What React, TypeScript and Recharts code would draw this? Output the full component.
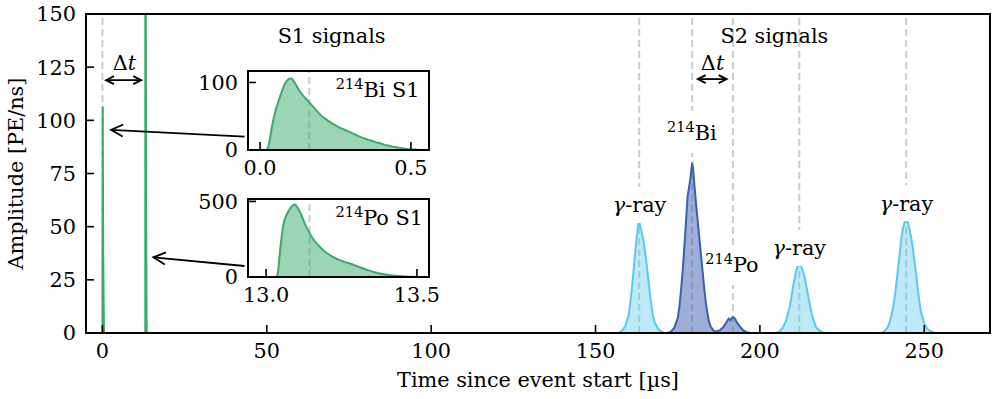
import React from 'react';
import {
  AreaChart,
  Area,
  XAxis,
  YAxis,
  ReferenceLine,
  ReferenceDot,
  ReferenceArea,
  Label,
} from 'recharts';

const FONT = '"DejaVu Serif", serif';
const FS = 20.8;
const SUP = 14.5;

// ---------- DATA ----------
// S1 pulse of 214Bi (time in µs, amplitude in PE/ns)
const biS1 = [
  { t: 0.02, a: 0 }, { t: 0.025, a: 2 }, { t: 0.03, a: 10 }, { t: 0.04, a: 36 },
  { t: 0.05, a: 56 }, { t: 0.06, a: 71 }, { t: 0.07, a: 84 }, { t: 0.08, a: 96 },
  { t: 0.09, a: 103 }, { t: 0.1, a: 106 }, { t: 0.105, a: 106 }, { t: 0.11, a: 103 },
  { t: 0.12, a: 96 }, { t: 0.13, a: 88 }, { t: 0.14, a: 82 }, { t: 0.15, a: 77 },
  { t: 0.16, a: 72 }, { t: 0.18, a: 62 }, { t: 0.2, a: 52 }, { t: 0.22, a: 45 },
  { t: 0.24, a: 39 }, { t: 0.26, a: 34 }, { t: 0.28, a: 30 }, { t: 0.3, a: 26 },
  { t: 0.32, a: 22 }, { t: 0.34, a: 18 }, { t: 0.36, a: 15 }, { t: 0.38, a: 12 },
  { t: 0.4, a: 9.5 }, { t: 0.42, a: 7 }, { t: 0.44, a: 5 }, { t: 0.46, a: 3.5 },
  { t: 0.48, a: 2 }, { t: 0.5, a: 1 }, { t: 0.52, a: 0.5 }, { t: 0.55, a: 0 },
];

// S1 pulse of 214Po
const poS1 = [
  { t: 13.035, a: 0 }, { t: 13.04, a: 40 }, { t: 13.045, a: 150 }, { t: 13.05, a: 240 },
  { t: 13.055, a: 320 }, { t: 13.06, a: 370 }, { t: 13.07, a: 420 }, { t: 13.08, a: 455 },
  { t: 13.09, a: 475 }, { t: 13.095, a: 480 }, { t: 13.1, a: 470 }, { t: 13.11, a: 440 },
  { t: 13.12, a: 395 }, { t: 13.13, a: 345 }, { t: 13.14, a: 305 }, { t: 13.15, a: 270 },
  { t: 13.16, a: 240 }, { t: 13.18, a: 195 }, { t: 13.2, a: 160 }, { t: 13.22, a: 135 },
  { t: 13.24, a: 115 }, { t: 13.26, a: 100 }, { t: 13.28, a: 88 }, { t: 13.3, a: 73 },
  { t: 13.32, a: 58 }, { t: 13.34, a: 44 }, { t: 13.36, a: 32 }, { t: 13.38, a: 22 },
  { t: 13.4, a: 15 }, { t: 13.42, a: 10 }, { t: 13.44, a: 6 }, { t: 13.46, a: 3 },
  { t: 13.48, a: 1.5 }, { t: 13.5, a: 0.5 }, { t: 13.54, a: 0 },
];

// S2 pulses
const gamma1 = [
  { t: 157, a: 0 }, { t: 158, a: 1 }, { t: 159, a: 3 }, { t: 160, a: 8 }, { t: 160.5, a: 13 },
  { t: 161, a: 20 }, { t: 161.5, a: 28 }, { t: 162, a: 37 }, { t: 162.5, a: 45 }, { t: 163, a: 51 },
  { t: 163.3, a: 52.5 }, { t: 163.6, a: 50 }, { t: 164, a: 48 }, { t: 164.5, a: 44 }, { t: 165, a: 39 },
  { t: 165.5, a: 33 }, { t: 166, a: 26 }, { t: 166.5, a: 19 }, { t: 167, a: 13 }, { t: 167.5, a: 8 },
  { t: 168, a: 5 }, { t: 169, a: 2 }, { t: 170, a: 0.7 }, { t: 171, a: 0 },
];

const biPoS2 = [
  { t: 172, a: 0 }, { t: 173, a: 0.7 }, { t: 174, a: 2.5 }, { t: 175, a: 7 }, { t: 175.5, a: 12 },
  { t: 176, a: 20 }, { t: 176.5, a: 29 }, { t: 177, a: 40 }, { t: 177.5, a: 52 }, { t: 178, a: 64 },
  { t: 178.5, a: 69 }, { t: 178.8, a: 72 }, { t: 179.1, a: 76 }, { t: 179.4, a: 80 }, { t: 179.7, a: 77 },
  { t: 180, a: 71 }, { t: 180.5, a: 62 }, { t: 181, a: 54 }, { t: 181.5, a: 46 }, { t: 182, a: 38 },
  { t: 182.5, a: 30 }, { t: 183, a: 22 }, { t: 183.5, a: 15 }, { t: 184, a: 9.5 }, { t: 184.5, a: 5.5 },
  { t: 185, a: 3 }, { t: 186, a: 1 }, { t: 187, a: 0.8 }, { t: 188, a: 1.5 }, { t: 189, a: 3 },
  { t: 190, a: 5.5 }, { t: 190.5, a: 6.8 }, { t: 191, a: 6 }, { t: 191.5, a: 7.2 }, { t: 192, a: 7.4 },
  { t: 192.5, a: 6.5 }, { t: 193, a: 5 }, { t: 194, a: 2.8 }, { t: 195, a: 1.2 }, { t: 196, a: 0.4 },
  { t: 197, a: 0 },
];

const gamma2 = [
  { t: 205, a: 0 }, { t: 206, a: 0.8 }, { t: 207, a: 2.5 }, { t: 208, a: 6 }, { t: 209, a: 12 },
  { t: 209.5, a: 16 }, { t: 210, a: 21 }, { t: 210.5, a: 25 }, { t: 211, a: 29 }, { t: 211.5, a: 31.5 },
  { t: 212, a: 32.5 }, { t: 212.5, a: 31.5 }, { t: 213, a: 29.5 }, { t: 213.5, a: 27 }, { t: 214, a: 23 },
  { t: 214.5, a: 19 }, { t: 215, a: 15 }, { t: 215.5, a: 11 }, { t: 216, a: 7.5 }, { t: 217, a: 3 },
  { t: 218, a: 1.2 }, { t: 219, a: 0.4 }, { t: 220, a: 0 },
];

const gamma3 = [
  { t: 237, a: 0 }, { t: 238, a: 1 }, { t: 239, a: 3 }, { t: 240, a: 8 }, { t: 240.5, a: 12 },
  { t: 241, a: 17 }, { t: 241.5, a: 23 }, { t: 242, a: 30 }, { t: 242.5, a: 37 }, { t: 243, a: 44 },
  { t: 243.5, a: 49 }, { t: 244, a: 52 }, { t: 244.5, a: 53.5 }, { t: 245, a: 52 }, { t: 245.5, a: 49 },
  { t: 246, a: 45 }, { t: 246.5, a: 40 }, { t: 247, a: 34 }, { t: 247.5, a: 28 }, { t: 248, a: 21 },
  { t: 248.5, a: 15 }, { t: 249, a: 10 }, { t: 250, a: 4.5 }, { t: 251, a: 1.8 }, { t: 252, a: 0.8 },
  { t: 253, a: 0.3 }, { t: 254, a: 0 },
];

const mainXTicks = [0, 50, 100, 150, 200, 250];
const mainYTicks = [0, 25, 50, 75, 100, 125, 150];
const markerTimes = [163.3, 179.4, 191.8, 212.0, 244.5];
const s1Marker = 0;
const biInsetXTicks = [0, 0.5];
const biInsetYTicks = [0, 100];
const poInsetXTicks = [13.0, 13.5];
const poInsetYTicks = [0, 500];
const biInsetMarker = 0.163;
const poInsetMarker = 13.144;

// ---------- STYLE ----------
const GREEN = '#3aaa6e';
const LIGHT_BLUE = '#5ac8f0';
const DARK_BLUE = '#3c5fb0';
const DASH = '#cccccc';

// ---------- helpers ----------
const fmtInt = (v: number) => String(v);
const fmt1 = (v: number) => v.toFixed(1);

const makeXTick = (fmt: (v: number) => string) => (p: any) => {
  const { x, y, payload } = p;
  return (
    <g>
      <line x1={x} y1={y} x2={x} y2={y - 8} stroke="#000" strokeWidth={1.6} />
      <text x={x} y={y + 25} textAnchor="middle" fontFamily={FONT} fontSize={FS} fill="#000">
        {fmt(payload.value)}
      </text>
    </g>
  );
};

const makeYTick = (fmt: (v: number) => string) => (p: any) => {
  const { x, y, payload } = p;
  return (
    <g>
      <line x1={x} y1={y} x2={x + 8} y2={y} stroke="#000" strokeWidth={1.6} />
      <text x={x - 10} y={y} dy="0.36em" textAnchor="end" fontFamily={FONT} fontSize={FS} fill="#000">
        {fmt(payload.value)}
      </text>
    </g>
  );
};

const arrowShape = (double: boolean, head: number, half: number) => (p: any) => {
  const { x1, y1, x2, y2 } = p;
  const dx = x2 - x1;
  const dy = y2 - y1;
  const L = Math.hypot(dx, dy) || 1;
  const ux = dx / L;
  const uy = dy / L;
  const headPath = (tx: number, ty: number, sx: number, sy: number) =>
    `M${tx - sx * head - sy * half},${ty - sy * head + sx * half} L${tx},${ty} L${tx - sx * head + sy * half},${ty - sy * head - sx * half}`;
  return (
    <g>
      <line x1={x1} y1={y1} x2={x2} y2={y2} stroke="#000" strokeWidth={1.8} />
      <path d={headPath(x2, y2, ux, uy)} fill="none" stroke="#000" strokeWidth={1.8} />
      {double && <path d={headPath(x1, y1, -ux, -uy)} fill="none" stroke="#000" strokeWidth={1.8} />}
    </g>
  );
};

// text is vertically centred on (cx, cy); box = [offsetX, width, height] white rect
const labelShape = (content: React.ReactNode, box: [number, number, number] | null) => (p: any) => (
  <g>
    {box && <rect x={p.cx + box[0] - box[1] / 2} y={p.cy - box[2] / 2} width={box[1]} height={box[2]} fill="#fff" />}
    <text x={p.cx} y={p.cy + 0.36 * FS} textAnchor="middle" fontFamily={FONT} fontSize={FS} fill="#000">
      {content}
    </text>
  </g>
);

const gammaText = (
  <>
    <tspan fontStyle="italic">γ</tspan>
    <tspan>-ray</tspan>
  </>
);
const isoText = (mass: string, el: string, extra = '') => (
  <>
    <tspan dy={-8} fontSize={SUP}>{mass}</tspan>
    <tspan dy={8}>{el + extra}</tspan>
  </>
);
const deltaT = (
  <>
    <tspan>Δ</tspan>
    <tspan fontStyle="italic">t</tspan>
  </>
);

function Inset(props: {
  data: { t: number; a: number }[];
  xDomain: [number, number];
  xTicks: number[];
  yDomain: [number, number];
  yTicks: number[];
  marker: number;
  title: React.ReactNode;
  titleX: number;
  titleY: number;
  left: number;
  top: number;
  plotW: number;
  plotH: number;
}) {
  const yW = 60;
  const xH = 34;
  const m = { top: 14, right: 26, bottom: 0, left: 0 };
  return (
    <div style={{ position: 'absolute', left: props.left - yW, top: props.top - m.top }}>
      <AreaChart
        width={yW + props.plotW + m.right}
        height={m.top + props.plotH + xH}
        margin={m}
      >
        <XAxis
          type="number"
          dataKey="t"
          domain={props.xDomain}
          ticks={props.xTicks}
          allowDataOverflow
          interval={0}
          height={xH}
          axisLine={false}
          tickLine={false}
          tickSize={0}
          tickMargin={0}
          tick={makeXTick(fmt1)}
        />
        <YAxis
          type="number"
          domain={props.yDomain}
          ticks={props.yTicks}
          allowDataOverflow
          interval={0}
          width={yW}
          axisLine={false}
          tickLine={false}
          tickSize={0}
          tickMargin={0}
          tick={makeYTick(fmtInt)}
        />
        <ReferenceArea
          x1={props.xDomain[0]}
          x2={props.xDomain[1]}
          y1={props.yDomain[0]}
          y2={props.yDomain[1]}
          fill="#fff"
          fillOpacity={1}
          stroke="none"
          zIndex={10}
        />
        <ReferenceLine x={props.marker} stroke={DASH} strokeWidth={2} strokeDasharray="7 4" zIndex={50} />
        <Area
          data={props.data}
          dataKey="a"
          type="monotone"
          stroke={GREEN}
          strokeWidth={2}
          fill={GREEN}
          fillOpacity={0.5}
          dot={false}
          activeDot={false}
          isAnimationActive={false}
        />
        <ReferenceDot
          x={props.titleX}
          y={props.titleY}
          r={0}
          ifOverflow="visible"
          shape={labelShape(props.title, null)}
        />
        <ReferenceArea
          x1={props.xDomain[0]}
          x2={props.xDomain[1]}
          y1={props.yDomain[0]}
          y2={props.yDomain[1]}
          fill="none"
          stroke="#000"
          strokeWidth={2}
          ifOverflow="visible"
          zIndex={3000}
        />
      </AreaChart>
    </div>
  );
}

export default function App() {
  return (
    <div style={{ position: 'absolute', left: 0, top: 0, width: 997, height: 399, background: '#fff', fontFamily: FONT }}>
      <AreaChart width={997} height={399} margin={{ top: 14, right: 7, bottom: 0, left: 0 }}>
        <XAxis
          type="number"
          dataKey="t"
          domain={[-5, 270]}
          ticks={mainXTicks}
          allowDataOverflow
          interval={0}
          height={66}
          axisLine={false}
          tickLine={false}
          tickSize={0}
          tickMargin={0}
          tick={makeXTick(fmtInt)}
        >
          <Label
            content={(p: any) => {
              const vb = p.viewBox || { x: 86, y: 333, width: 904, height: 66 };
              return (
                <text x={vb.x + vb.width / 2} y={vb.y + vb.height - 12} textAnchor="middle" fontFamily={FONT} fontSize={FS} fill="#000">
                  Time since event start [µs]
                </text>
              );
            }}
          />
        </XAxis>
        <YAxis
          type="number"
          domain={[0, 150]}
          ticks={mainYTicks}
          allowDataOverflow
          interval={0}
          width={86}
          axisLine={false}
          tickLine={false}
          tickSize={0}
          tickMargin={0}
          tick={makeYTick(fmtInt)}
        >
          <Label
            content={(p: any) => {
              const vb = p.viewBox || { x: 0, y: 14, width: 86, height: 319 };
              const cx = vb.x + 23;
              const cy = vb.y + vb.height / 2;
              return (
                <text x={cx} y={cy} transform={`rotate(-90, ${cx}, ${cy})`} textAnchor="middle" fontFamily={FONT} fontSize={FS} fill="#000">
                  Amplitude [PE/ns]
                </text>
              );
            }}
          />
        </YAxis>

        {/* dashed marker lines */}
        <ReferenceLine x={s1Marker} stroke={DASH} strokeWidth={2} strokeDasharray="7 4" zIndex={50} />
        {markerTimes.map((t) => (
          <ReferenceLine key={t} x={t} stroke={DASH} strokeWidth={2} strokeDasharray="7 4" zIndex={50} />
        ))}

        {/* boxed peak labels */}
        <ReferenceDot x={163.4} y={60.2} r={0} ifOverflow="visible" shape={labelShape(gammaText, [0, 50, 36])} />
        <ReferenceDot x={179.3} y={94.5} r={0} ifOverflow="visible" shape={labelShape(isoText('214', 'Bi'), [0, 46, 42])} />
        <ReferenceDot x={191.5} y={32.0} r={0} ifOverflow="visible" shape={labelShape(isoText('214', 'Po'), [0, 46, 40])} />
        <ReferenceDot x={212.0} y={40.0} r={0} ifOverflow="visible" shape={labelShape(gammaText, [0, 50, 36])} />
        <ReferenceDot x={244.6} y={61.1} r={0} ifOverflow="visible" shape={labelShape(gammaText, [0, 50, 36])} />

        {/* S1 pulses */}
        <Area data={biS1} dataKey="a" type="monotone" stroke={GREEN} strokeWidth={2} fill={GREEN} fillOpacity={0.5} dot={false} activeDot={false} isAnimationActive={false} />
        <Area data={poS1} dataKey="a" type="monotone" stroke={GREEN} strokeWidth={2} fill={GREEN} fillOpacity={0.5} dot={false} activeDot={false} isAnimationActive={false} />

        {/* S2 pulses */}
        <Area data={gamma1} dataKey="a" type="linear" stroke={LIGHT_BLUE} strokeWidth={2} fill={LIGHT_BLUE} fillOpacity={0.4} dot={false} activeDot={false} isAnimationActive={false} />
        <Area data={gamma2} dataKey="a" type="linear" stroke={LIGHT_BLUE} strokeWidth={2} fill={LIGHT_BLUE} fillOpacity={0.4} dot={false} activeDot={false} isAnimationActive={false} />
        <Area data={gamma3} dataKey="a" type="linear" stroke={LIGHT_BLUE} strokeWidth={2} fill={LIGHT_BLUE} fillOpacity={0.4} dot={false} activeDot={false} isAnimationActive={false} />
        <Area data={biPoS2} dataKey="a" type="linear" stroke={DARK_BLUE} strokeWidth={2} fill={DARK_BLUE} fillOpacity={0.5} dot={false} activeDot={false} isAnimationActive={false} />

        {/* plain texts */}
        <ReferenceDot x={69.7} y={139.7} r={0} ifOverflow="visible" shape={labelShape('S1 signals', null)} />
        <ReferenceDot x={204.4} y={139.7} r={0} ifOverflow="visible" shape={labelShape('S2 signals', null)} />
        <ReferenceDot x={6.7} y={127.1} r={0} ifOverflow="visible" shape={labelShape(deltaT, null)} />
        <ReferenceDot x={185.6} y={127.1} r={0} ifOverflow="visible" shape={labelShape(deltaT, null)} />

        {/* arrows */}
        <ReferenceLine segment={[{ x: 1.1, y: 118.9 }, { x: 11.8, y: 118.9 }]} ifOverflow="visible" shape={arrowShape(true, 8, 4)} />
        <ReferenceLine segment={[{ x: 181.1, y: 119.4 }, { x: 189.9, y: 119.4 }]} ifOverflow="visible" shape={arrowShape(true, 8, 4)} />
        <ReferenceLine segment={[{ x: 43.2, y: 92.3 }, { x: 2.6, y: 95.5 }]} ifOverflow="visible" shape={arrowShape(false, 12, 6)} />
        <ReferenceLine segment={[{ x: 43.2, y: 31.5 }, { x: 15.5, y: 35.6 }]} ifOverflow="visible" shape={arrowShape(false, 12, 6)} />

        {/* frame */}
        <ReferenceArea x1={-5} x2={270} y1={0} y2={150} fill="none" stroke="#000" strokeWidth={2} ifOverflow="visible" zIndex={3000} />
      </AreaChart>

      <Inset
        data={biS1}
        xDomain={[-0.04, 0.56]}
        xTicks={biInsetXTicks}
        yDomain={[0, 117]}
        yTicks={biInsetYTicks}
        marker={biInsetMarker}
        title={isoText('214', 'Bi', ' S1')}
        titleX={0.39}
        titleY={89}
        left={248}
        top={71}
        plotW={181}
        plotH={79}
      />
      <Inset
        data={poS1}
        xDomain={[12.94, 13.54]}
        xTicks={poInsetXTicks}
        yDomain={[0, 516]}
        yTicks={poInsetYTicks}
        marker={poInsetMarker}
        title={isoText('214', 'Po', ' S1')}
        titleX={13.375}
        titleY={391}
        left={248}
        top={199}
        plotW={181}
        plotH={78}
      />
    </div>
  );
}
